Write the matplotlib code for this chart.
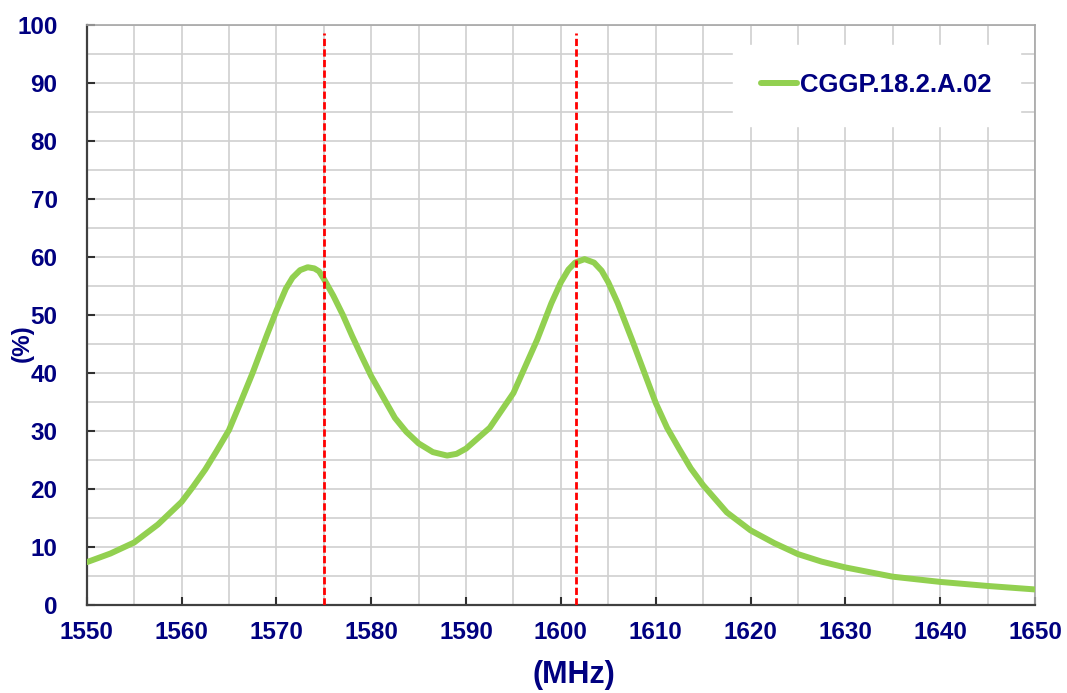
import matplotlib.pyplot as plt

# Datos
freq = [1550, 1552.5, 1555, 1557.5, 1560, 1561.2, 1562.5, 1563.7, 1565, 1566.2,
        1567.5, 1569, 1570, 1571, 1571.7, 1572.5, 1573.3, 1574, 1574.5, 1575,
        1576, 1577, 1578, 1579, 1580, 1582.5, 1583.7, 1585, 1586.5, 1588,
        1589, 1590, 1592.5, 1595, 1597.5, 1599, 1600, 1600.8, 1601.5, 1602.5,
        1603.5, 1604.3, 1605, 1606, 1607.5, 1610, 1611.2, 1612.5, 1613.7, 1615,
        1617.5, 1620, 1622.5, 1625, 1627.5, 1630, 1635, 1640, 1645, 1650]
efic = [7.3, 8.8, 10.7, 13.8, 17.7, 20.3, 23.3, 26.5, 30.1, 34.8,
        40.0, 46.5, 50.7, 54.5, 56.4, 57.7, 58.2, 58.0, 57.5, 56.2,
        53.3, 50.0, 46.3, 42.8, 39.4, 32.2, 29.8, 27.8, 26.3, 25.7,
        26.0, 26.9, 30.5, 36.5, 45.7, 52.0, 55.6, 57.8, 59.0, 59.6,
        59.0, 57.6, 55.6, 52.0, 45.7, 34.8, 30.5, 26.8, 23.5, 20.6,
        15.9, 12.8, 10.6, 8.7, 7.4, 6.4, 4.8, 3.9, 3.2, 2.6]
marcas = [1575.0, 1601.6]
etiqueta = 'CGGP.18.2.A.02'

azul = '#000080'
plt.rcParams['font.family'] = ['Liberation Sans', 'DejaVu Sans']
plt.rcParams['font.weight'] = 'bold'

fig = plt.figure(figsize=(10.67, 6.93), dpi=100)
ax = fig.add_axes([0.0813, 0.1277, 0.8887, 0.8362])

ax.plot(freq, efic, color='#92D050', lw=4.3, label=etiqueta, zorder=3,
        solid_capstyle='round', solid_joinstyle='round')
ax.vlines(marcas, 0, 98.6, colors='#FF0000', lw=2.0,
          linestyles=(0, (2.6, 1.2)), zorder=4)

ax.set_xlim(1550, 1650)
ax.set_ylim(0, 100)
ax.set_xticks(range(1550, 1651, 10))
ax.set_yticks(range(0, 101, 10))
ax.set_xticks(range(1555, 1650, 10), minor=True)
ax.set_yticks(range(5, 100, 10), minor=True)

ax.grid(True, which='both', color='#d0d0d0', lw=1.2, zorder=0)
ax.set_axisbelow(True)

ax.tick_params(which='major', direction='in', length=6, width=1.5,
               color='#303030', labelsize=17.5, labelcolor=azul)
ax.tick_params(axis='x', which='major', pad=12)
ax.tick_params(axis='y', which='major', pad=21)
ax.tick_params(which='minor', length=0)

for lado in ['left', 'bottom']:
    ax.spines[lado].set_color('#404040')
    ax.spines[lado].set_linewidth(1.6)
for lado in ['top', 'right']:
    ax.spines[lado].set_color('#a6a6a6')
    ax.spines[lado].set_linewidth(1.2)

ax.set_xlabel('(MHz)', fontsize=22, color=azul, fontweight='bold', va='center')
ax.xaxis.set_label_coords(0.514, -0.1217)
ax.set_ylabel('(%)', fontsize=17.5, color=azul, fontweight='bold', va='center')
ax.yaxis.set_label_coords(-0.068, 0.451)

leg = ax.legend(loc='upper right', bbox_to_anchor=(0.9842, 0.9655),
                borderaxespad=0, fontsize=18.5, frameon=True, fancybox=False,
                handlelength=1.4, handletextpad=0.12, borderpad=1.1)
leg.get_frame().set_edgecolor('white')
leg.get_frame().set_facecolor('white')
leg.get_frame().set_alpha(1)
for t in leg.get_texts():
    t.set_color(azul)

fig.savefig('out.png', dpi=100)
